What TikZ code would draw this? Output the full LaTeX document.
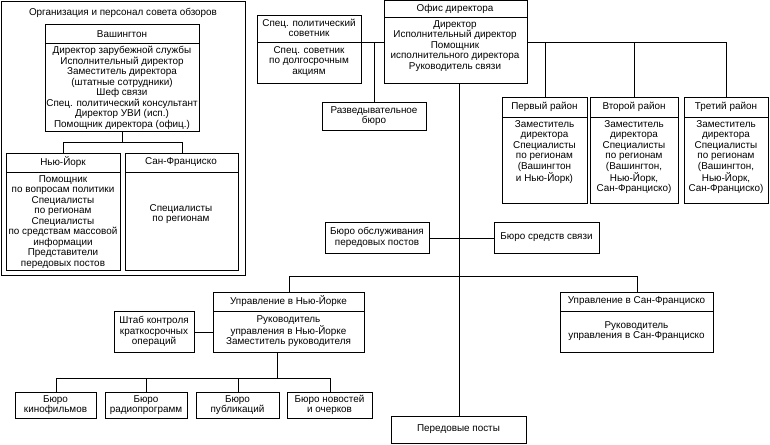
\documentclass[tikz,border=0pt]{standalone}
\usepackage{fontspec}
\setmainfont{Liberation Sans}
\begin{document}
\begin{tikzpicture}[x=1pt,y=-1pt,line width=0.7pt,
  txt/.style={align=center,inner sep=0pt,font=\fontsize{9.9}{10.5}\selectfont},
  bodyt/.style={txt,anchor=north}]
\newcommand\bx[5]{\node[draw,anchor=north west,inner sep=0pt,minimum width={(#4-#2)*1pt},minimum height={(#5-#3)*1pt}] (#1) at (#2,#3) {};}
\newcommand\hl[3]{\draw (#1,#3) -- (#2,#3);}
\useasboundingbox (0,0) rectangle (770,444);
% left panel
\bx{outer}{1}{1}{245}{275}
\node[txt] (title) at (123,13) {Организация и персонал совета обзоров};
\bx{wash}{45}{24}{199}{131} \hl{45}{199}{43}
\node[txt] (washh) at (122,34) {Вашингтон};
\node[bodyt] (washb) at (122,46) {Директор зарубежной службы\\Исполнительный директор\\Заместитель директора\\(штатные сотрудники)\\Шеф связи\\Спец. политический консультант\\Директор УВИ (исп.)\\Помощник директора (офиц.)};
\bx{ny}{6}{153}{120}{270} \hl{6}{120}{172}
\node[txt] (nyh) at (63,162) {Нью-Йорк};
\node[bodyt] (nyb) at (63,175) {Помощник\\по вопросам политики\\Специалисты\\по регионам\\Специалисты\\по средствам массовой\\информации\\Представители\\передовых постов};
\bx{sf}{125}{153}{238}{270} \hl{125}{238}{172}
\node[txt] (sfh) at (181,162) {Сан-Франциско};
\node[txt] (sfb) at (181,214) {Специалисты\\по регионам};
\draw (wash.south) -- ++(0,11);
\draw (ny.north) -- ++(0,-11) -| (sf.north);
% top
\bx{sps}{257}{15}{361}{83} \hl{257}{361}{42}
\node[txt] (spsh) at (309,28) {Спец. политический\\советник};
\node[bodyt] (spsb) at (309,46) {Спец. советник\\по долгосрочным\\акциям};
\bx{dir}{384}{0.5}{527}{83} \hl{384}{527}{17}
\node[txt] (dirh) at (455,9) {Офис директора};
\node[bodyt] (dirb) at (455,20) {Директор\\Исполнительный директор\\Помощник\\исполнительного директора\\Руководитель связи};
\bx{razv}{322}{102}{426}{130}
\node[txt] (razvt) at (374,116) {Разведывательное\\бюро};
\bx{d1}{502}{97}{587}{203} \hl{502}{587}{117}
\bx{d2}{590}{97}{678}{203} \hl{590}{678}{117}
\bx{d3}{684}{97}{768}{203} \hl{684}{768}{117}
\node[txt] (d1h) at (544.5,107) {Первый район};
\node[txt] (d2h) at (634,107) {Второй район};
\node[txt] (d3h) at (726,107) {Третий район};
\node[bodyt] (d1b) at (544.5,120) {Заместитель\\директора\\Специалисты\\по регионам\\(Вашингтон\\и Нью-Йорк)};
\node[bodyt] (d2b) at (634,120) {Заместитель\\директора\\Специалисты\\по регионам\\(Вашингтон,\\Нью-Йорк,\\Сан-Франциско)};
\node[bodyt] (d3b) at (726,120) {Заместитель\\директора\\Специалисты\\по регионам\\(Вашингтон,\\Нью-Йорк,\\Сан-Франциско)};
\draw (sps.east |- 0,42) -- (dir.west |- 0,42);
\draw (razv.north) -- (razv.north |- 0,42);
\draw (dir.east |- 0,42) -| (d3.north);
\draw (d1.north) -- (d1.north |- 0,42);
\draw (d2.north) -- (d2.north |- 0,42);
% middle
\bx{bs}{325}{222}{429}{253}
\node[txt] (bst) at (377,237.5) {Бюро обслуживания\\передовых постов};
\bx{bc}{494}{222}{599}{253}
\node[txt] (bct) at (546.5,237.5) {Бюро средств связи};
\bx{post}{391}{416}{526}{443}
\node[txt] (postt) at (458.5,429.5) {Передовые посты};
\coordinate (m) at (459,83);
\draw (m) -- (post.north -| m);
\draw (bs.east) -- (bc.west);
\bx{nya}{213}{292}{364}{352} \hl{213}{364}{311}
\node[txt] (nyah) at (288.5,301.5) {Управление в Нью-Йорке};
\node[bodyt] (nyab) at (288.5,315) {Руководитель\\управления в Нью-Йорке\\Заместитель руководителя};
\bx{sfa}{560}{292}{713}{352} \hl{560}{713}{311}
\node[txt] (sfah) at (636.5,301.5) {Управление в Сан-Франциско};
\node[txt] (sfab) at (636.5,331) {Руководитель\\управления в Сан-Франциско};
\draw (nya.north) -- ++(0,-16) -| (sfa.north);
\bx{sh}{114}{311}{194}{352}
\node[txt] (sht) at (154,331.5) {Штаб контроля\\краткосрочных\\операций};
\draw (sh.east) -- (nya.west |- sh.east);
% bureaus
\bx{b1}{15}{392}{96}{418}
\bx{b2}{105}{392}{187}{418}
\bx{b3}{196}{392}{279}{418}
\bx{b4}{287}{392}{372}{418}
\node[txt] (b1t) at (55.5,405) {Бюро\\кинофильмов};
\node[txt] (b2t) at (146,405) {Бюро\\радиопрограмм};
\node[txt] (b3t) at (237.5,405) {Бюро\\публикаций};
\node[txt] (b4t) at (329.5,405) {Бюро новостей\\и очерков};
\coordinate (nyd) at (277,352);
\coordinate (nyj) at (277,378);
\draw (nyd) -- (nyj);
\draw (b1.north) -- ++(0,-14) -| (b4.north);
\draw (b2.north) -- ++(0,-14);
\draw (b3.north) -- ++(0,-14);
\end{tikzpicture}
\end{document}
